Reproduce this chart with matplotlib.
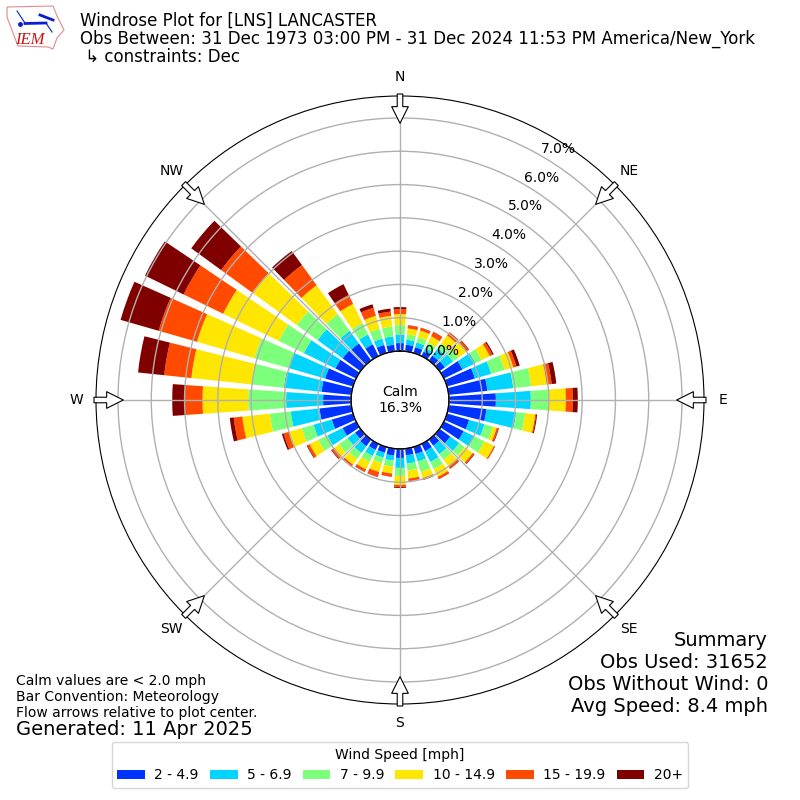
import numpy as np
import matplotlib
matplotlib.use("Agg")
import matplotlib.pyplot as plt
from matplotlib.patches import Polygon

directions = [10,20,30,40,50,60,70,80,90,100,110,120,130,140,150,160,170,180,
              190,200,210,220,230,240,250,260,270,280,290,300,310,320,330,340,350,360]
speed_2_5 = [.20,.18,.15,.18,.20,.62,.87,1.17,1.41,1.14,.69,.66,.40,.23,.24,.22,.20,.27,
             .21,.18,.20,.25,.20,.45,.66,.96,.84,.90,.87,.69,.66,.63,.39,.25,.20,.24]
speed_5_7 = [.15,.15,.12,.27,.30,.43,.51,.78,1.05,.90,.48,.36,.33,.31,.36,.23,.25,.30,
             .15,.15,.20,.25,.28,.51,.57,.87,1.11,1.14,1.14,1.05,.93,.47,.33,.20,.25,.26]
speed_7_10 = [.16,.16,.18,.18,.20,.21,.42,.54,.54,.27,.26,.33,.20,.21,.24,.33,.21,.24,
              .18,.17,.20,.22,.32,.30,.37,.63,1.14,.98,1.07,.84,.77,.61,.38,.31,.30,.28]
speed_10_15 = [.18,.21,.21,.30,.30,.27,.27,.47,.51,.30,.12,.32,.30,.25,.26,.19,.24,.27,
               .21,.28,.25,.21,.17,.29,.40,.83,1.37,1.81,1.79,1.86,1.65,1.08,.64,.40,.32,.33]
speed_15_20 = [.09,.08,.14,.11,.08,.09,.10,.15,.21,.03,.05,.03,.05,.08,.07,.05,.07,.06,
               .09,.15,.08,.07,.10,.08,.17,.26,.52,.82,1.20,1.32,1.16,.75,.30,.25,.13,.15]
speed_20 = [.01,.01,.01,.01,.02,.04,.10,.14,.15,.03,.02,.01,.02,.01,.01,.01,.01,.03,
            .01,.01,.01,.01,.02,.02,.05,.12,.39,.79,1.19,1.29,1.11,.52,.36,.11,.09,.06]
speed_labels = ["2 - 4.9","5 - 6.9","7 - 9.9","10 - 14.9","15 - 19.9","20+"]
speed_colors = ["#0033ff","#00d4ff","#7cff7a","#ffe600","#ff4a00","#800000"]
radial_ticks = [0,1,2,3,4,5,6,7]
compass = ["N","NE","E","SE","S","SW","W","NW"]
compass_deg = [0,45,90,135,180,225,270,315]

plt.rcParams["font.family"] = "DejaVu Sans"
fig = plt.figure(figsize=(8,8), dpi=100)
ax = fig.add_axes([96/800,96/800,608/800,608/800], projection="polar")
ax.set_theta_zero_location("N")
ax.set_theta_direction(-1)

theta = np.deg2rad(directions)
bottom = np.zeros(len(directions))
series = [speed_2_5,speed_5_7,speed_7_10,speed_10_15,speed_15_20,speed_20]
for vals,col,lab in zip(series,speed_colors,speed_labels):
    v = np.array(vals)
    ax.bar(theta, v, width=np.deg2rad(8), bottom=bottom, color=col, label=lab, linewidth=0, zorder=2)
    bottom += v

rmax = 7.66
ax.set_ylim(0,rmax)
ax.set_rorigin(-1.47)
ax.set_axisbelow(False)
ax.grid(True, color="#b0b0b0", linewidth=1.0, zorder=3)
ax.set_rgrids(radial_ticks, [f"{t:.1f}%" for t in radial_ticks], angle=30, fontsize=10)
ax.set_thetagrids(compass_deg, compass, fontsize=10)
ax.tick_params(axis="x", pad=3.5)
for t in ax.yaxis.get_gridlines():
    t.set_zorder(3)
for t in ax.get_yticklabels():
    t.set_zorder(6)

# ring round the calm hole
tt = np.linspace(0,2*np.pi,361)
ax.plot(tt, np.zeros_like(tt), color="k", lw=1, zorder=4, clip_on=False)
ax.set_ylim(0,rmax)

# direction arrows
for d in compass_deg:
    a = np.deg2rad(d)
    ax.annotate("", xy=(a,rmax-0.82), xytext=(a,rmax+0.06),
                arrowprops=dict(facecolor="white", edgecolor="k", width=4, headwidth=12,
                                headlength=12, shrink=0, linewidth=0.8),
                zorder=5, annotation_clip=False)

fig.text(400/800,1-400/800,"Calm\n16.3%",ha="center",va="center",fontsize=10,linespacing=1.15)

fig.text(80/800,1-12/800,"Windrose Plot for [LNS] LANCASTER\nObs Between: 31 Dec 1973 03:00 PM - 31 Dec 2024 11:53 PM America/New_York\n \u21b3 constraints: Dec",
         ha="left",va="top",fontsize=12.0,linespacing=0.98)
fig.text(768/800,1-716/800,"Summary\nObs Used: 31652\nObs Without Wind: 0\nAvg Speed: 8.4 mph",ha="right",va="bottom",fontsize=14,linespacing=1.2)
fig.text(16/800,1-720/800,"Calm values are < 2.0 mph\nBar Convention: Meteorology\nFlow arrows relative to plot center.",ha="left",va="bottom",fontsize=10,linespacing=1.2)
fig.text(16/800,1-739/800,"Generated: 11 Apr 2025",ha="left",va="bottom",fontsize=14)

handles,labels = ax.get_legend_handles_labels()
fig.legend(handles,labels,title="Wind Speed [mph]",ncol=6,loc="center",fontsize=10,title_fontsize=10,
           bbox_to_anchor=(400/800,1-765/800),columnspacing=0.8,handletextpad=0.68,borderaxespad=0)

# logo
lg = fig.add_axes([0,720/800,72/800,80/800])
lg.set_xlim(0,72); lg.set_ylim(80,0); lg.axis("off")
lg.add_patch(Polygon([(7,7),(53,6),(57,16),(64,30),(57,38),(53,49),(48,47),(18,46),(13,33),(7,17)],
                     closed=True,fill=False,edgecolor="#e58a8a",lw=0.8))
lg.plot([25,46],[23.5,23],color="#0a1ecc",lw=2)
lg.plot([40,53],[15,20],color="#0a1ecc",lw=2)
lg.plot([17,25],[11,23],color="#0a1ecc",lw=0.8)
lg.plot([46,52],[23,32],color="#0a1ecc",lw=0.8)
lg.plot([20],[24],"o",color="#0a1ecc",ms=2.5)
lg.text(30,44,"IEM",color="#cc1414",fontsize=12,family="Liberation Serif",style="italic",ha="center",va="baseline")

fig.savefig("out.png",dpi=100)
